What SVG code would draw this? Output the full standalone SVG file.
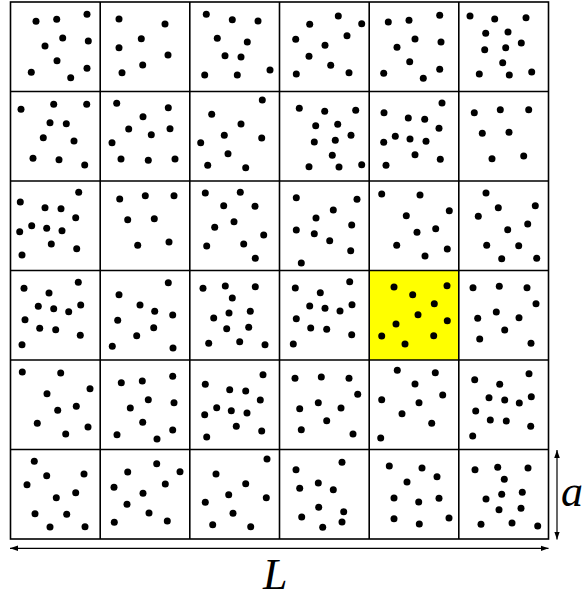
<svg xmlns="http://www.w3.org/2000/svg" width="588" height="599" viewBox="0 0 588 599">
<style>
.g{fill:none;stroke:#000;stroke-width:1.6}
circle{fill:#000}
.ar{stroke:#000;stroke-width:1.2;fill:none}
.lb{font-family:"Liberation Serif","DejaVu Serif",serif;font-style:italic;fill:#000}
</style>
<defs>
<marker id="ah" viewBox="0 0 10 10" refX="10" refY="5" markerWidth="8" markerHeight="8" orient="auto-start-reverse" markerUnits="userSpaceOnUse">
<path d="M0,1.5 L10,5 L0,8.5 Z" fill="#000"/>
</marker>
</defs>
<rect x="369.5" y="270.5" width="89" height="89.5" fill="#ffff00"/>
<g id="grid">
<rect class="g" x="10.5" y="2" width="538" height="537"/>
<path class="g" d="M100.2,2V539M189.8,2V539M279.5,2V539M369.2,2V539M458.8,2V539M10.5,91.5H548.5M10.5,181H548.5M10.5,270.5H548.5M10.5,360H548.5M10.5,449.5H548.5"/>
</g>
<g id="dots">
<g id="c00"><circle cx="36" cy="21.3" r="3.5"/><circle cx="56.7" cy="19.3" r="3.5"/><circle cx="87" cy="14.3" r="3.5"/><circle cx="62.7" cy="38" r="3.5"/><circle cx="45" cy="46" r="3.5"/><circle cx="88.3" cy="41" r="3.5"/><circle cx="57" cy="60.7" r="3.5"/><circle cx="31.3" cy="72.3" r="3.5"/><circle cx="70.7" cy="77.7" r="3.5"/><circle cx="87" cy="68.3" r="3.5"/></g>
<g id="c10"><circle cx="119" cy="19" r="3.5"/><circle cx="165" cy="24" r="3.5"/><circle cx="141.3" cy="38.7" r="3.5"/><circle cx="119" cy="47.7" r="3.5"/><circle cx="168" cy="55" r="3.5"/><circle cx="142.7" cy="65" r="3.5"/><circle cx="122" cy="72.7" r="3.5"/></g>
<g id="c20"><circle cx="206.3" cy="14.3" r="3.5"/><circle cx="232.3" cy="19.7" r="3.5"/><circle cx="258" cy="21" r="3.5"/><circle cx="217.3" cy="38.3" r="3.5"/><circle cx="247.3" cy="42" r="3.5"/><circle cx="225" cy="55.7" r="3.5"/><circle cx="241" cy="57" r="3.5"/><circle cx="204.7" cy="75" r="3.5"/><circle cx="237.3" cy="75" r="3.5"/><circle cx="270" cy="70" r="3.5"/></g>
<g id="c30"><circle cx="338.3" cy="16" r="3.5"/><circle cx="309.7" cy="24.3" r="3.5"/><circle cx="361.7" cy="23.7" r="3.5"/><circle cx="295.7" cy="39.3" r="3.5"/><circle cx="347" cy="35.7" r="3.5"/><circle cx="325" cy="45.3" r="3.5"/><circle cx="309" cy="56.3" r="3.5"/><circle cx="330.7" cy="65.3" r="3.5"/><circle cx="296.3" cy="74" r="3.5"/><circle cx="349" cy="72.7" r="3.5"/></g>
<g id="c40"><circle cx="388.3" cy="22" r="3.5"/><circle cx="409" cy="20.3" r="3.5"/><circle cx="439.7" cy="15.3" r="3.5"/><circle cx="415" cy="39" r="3.5"/><circle cx="441" cy="42" r="3.5"/><circle cx="397" cy="47.3" r="3.5"/><circle cx="409.7" cy="61.7" r="3.5"/><circle cx="383.7" cy="73.3" r="3.5"/><circle cx="423.3" cy="78.3" r="3.5"/><circle cx="439.7" cy="69.3" r="3.5"/></g>
<g id="c50"><circle cx="470" cy="16" r="3.5"/><circle cx="494.7" cy="19" r="3.5"/><circle cx="526" cy="17.7" r="3.5"/><circle cx="485.7" cy="33.3" r="3.5"/><circle cx="508" cy="32" r="3.5"/><circle cx="521.3" cy="43" r="3.5"/><circle cx="484.7" cy="49.7" r="3.5"/><circle cx="505.7" cy="47.7" r="3.5"/><circle cx="502.7" cy="62.7" r="3.5"/><circle cx="479.3" cy="74" r="3.5"/><circle cx="509.3" cy="75" r="3.5"/><circle cx="531.7" cy="72" r="3.5"/></g>
<g id="c01"><circle cx="21" cy="109.3" r="3.5"/><circle cx="53.7" cy="104.3" r="3.5"/><circle cx="86.7" cy="104.3" r="3.5"/><circle cx="50" cy="122.7" r="3.5"/><circle cx="66.3" cy="123.7" r="3.5"/><circle cx="43.3" cy="137.7" r="3.5"/><circle cx="74" cy="141" r="3.5"/><circle cx="33" cy="158.3" r="3.5"/><circle cx="59" cy="159.7" r="3.5"/><circle cx="84.7" cy="165" r="3.5"/></g>
<g id="c11"><circle cx="116.7" cy="103.3" r="3.5"/><circle cx="168.3" cy="107.7" r="3.5"/><circle cx="143" cy="116.7" r="3.5"/><circle cx="128.7" cy="129" r="3.5"/><circle cx="151.3" cy="134.7" r="3.5"/><circle cx="170" cy="128.7" r="3.5"/><circle cx="112" cy="142.7" r="3.5"/><circle cx="121" cy="159" r="3.5"/><circle cx="148.3" cy="160.3" r="3.5"/><circle cx="175" cy="159" r="3.5"/></g>
<g id="c21"><circle cx="262.3" cy="100" r="3.5"/><circle cx="211.7" cy="114.3" r="3.5"/><circle cx="241" cy="124" r="3.5"/><circle cx="224.3" cy="135.3" r="3.5"/><circle cx="200.7" cy="142.7" r="3.5"/><circle cx="261.7" cy="138" r="3.5"/><circle cx="228" cy="153.7" r="3.5"/><circle cx="207.7" cy="165.3" r="3.5"/><circle cx="245.7" cy="167.7" r="3.5"/></g>
<g id="c31"><circle cx="299.3" cy="108.3" r="3.5"/><circle cx="324.7" cy="111.3" r="3.5"/><circle cx="355.7" cy="110.3" r="3.5"/><circle cx="315.7" cy="125.7" r="3.5"/><circle cx="337.7" cy="124.3" r="3.5"/><circle cx="314.3" cy="142" r="3.5"/><circle cx="335.3" cy="140.3" r="3.5"/><circle cx="351" cy="135.3" r="3.5"/><circle cx="332.3" cy="155.3" r="3.5"/><circle cx="309" cy="166.7" r="3.5"/><circle cx="339" cy="167" r="3.5"/><circle cx="361.7" cy="164.7" r="3.5"/></g>
<g id="c41"><circle cx="442" cy="103" r="3.5"/><circle cx="384" cy="112.7" r="3.5"/><circle cx="408.3" cy="118" r="3.5"/><circle cx="424.7" cy="119.3" r="3.5"/><circle cx="439" cy="128.3" r="3.5"/><circle cx="395.3" cy="136.3" r="3.5"/><circle cx="410" cy="139" r="3.5"/><circle cx="426" cy="141.3" r="3.5"/><circle cx="383.7" cy="142.3" r="3.5"/><circle cx="415" cy="154.7" r="3.5"/><circle cx="440.3" cy="159.3" r="3.5"/><circle cx="386" cy="165.3" r="3.5"/></g>
<g id="c51"><circle cx="474.3" cy="112.7" r="3.5"/><circle cx="500.3" cy="109.7" r="3.5"/><circle cx="528.7" cy="109.7" r="3.5"/><circle cx="482.3" cy="133.3" r="3.5"/><circle cx="509" cy="132.3" r="3.5"/><circle cx="492" cy="158.7" r="3.5"/><circle cx="523.7" cy="156" r="3.5"/></g>
<g id="c02"><circle cx="78.7" cy="192.3" r="3.5"/><circle cx="20.3" cy="202" r="3.5"/><circle cx="45" cy="207.7" r="3.5"/><circle cx="61" cy="208.7" r="3.5"/><circle cx="75.7" cy="217.7" r="3.5"/><circle cx="31.7" cy="225.7" r="3.5"/><circle cx="19.7" cy="231.7" r="3.5"/><circle cx="46.7" cy="228.3" r="3.5"/><circle cx="62" cy="230.7" r="3.5"/><circle cx="51.3" cy="244" r="3.5"/><circle cx="76.7" cy="248.7" r="3.5"/><circle cx="22" cy="255" r="3.5"/></g>
<g id="c12"><circle cx="119.7" cy="199" r="3.5"/><circle cx="145.3" cy="195.7" r="3.5"/><circle cx="174" cy="195.7" r="3.5"/><circle cx="127.7" cy="219.7" r="3.5"/><circle cx="154.3" cy="218.7" r="3.5"/><circle cx="137.7" cy="245.3" r="3.5"/><circle cx="169" cy="242" r="3.5"/></g>
<g id="c22"><circle cx="205.3" cy="193" r="3.5"/><circle cx="240.3" cy="192.3" r="3.5"/><circle cx="223.7" cy="205.7" r="3.5"/><circle cx="255" cy="206.3" r="3.5"/><circle cx="234" cy="221.7" r="3.5"/><circle cx="214.7" cy="227.3" r="3.5"/><circle cx="263.7" cy="235" r="3.5"/><circle cx="206.7" cy="246" r="3.5"/><circle cx="243.7" cy="244" r="3.5"/><circle cx="255.3" cy="258.3" r="3.5"/></g>
<g id="c32"><circle cx="296.3" cy="197.7" r="3.5"/><circle cx="357" cy="199.3" r="3.5"/><circle cx="333.3" cy="210" r="3.5"/><circle cx="316" cy="218" r="3.5"/><circle cx="296.3" cy="230" r="3.5"/><circle cx="314.3" cy="233.7" r="3.5"/><circle cx="351.7" cy="225" r="3.5"/><circle cx="329.7" cy="240.7" r="3.5"/><circle cx="350.7" cy="250.7" r="3.5"/><circle cx="301.3" cy="263" r="3.5"/></g>
<g id="c42"><circle cx="381.7" cy="194" r="3.5"/><circle cx="420" cy="195" r="3.5"/><circle cx="449.3" cy="210.7" r="3.5"/><circle cx="406.3" cy="215.7" r="3.5"/><circle cx="435.7" cy="228.7" r="3.5"/><circle cx="417" cy="232.3" r="3.5"/><circle cx="396.7" cy="245.3" r="3.5"/><circle cx="447.3" cy="249" r="3.5"/><circle cx="425" cy="256" r="3.5"/></g>
<g id="c52"><circle cx="486" cy="193" r="3.5"/><circle cx="498.3" cy="207.7" r="3.5"/><circle cx="535.3" cy="205.7" r="3.5"/><circle cx="478.3" cy="216.3" r="3.5"/><circle cx="507.7" cy="229.7" r="3.5"/><circle cx="527.7" cy="224" r="3.5"/><circle cx="486.7" cy="245.3" r="3.5"/><circle cx="518.7" cy="245.7" r="3.5"/><circle cx="501.7" cy="258.7" r="3.5"/><circle cx="536.7" cy="258.3" r="3.5"/></g>
<g id="c03"><circle cx="78.3" cy="282.3" r="3.5"/><circle cx="24" cy="288.3" r="3.5"/><circle cx="49" cy="293" r="3.5"/><circle cx="38.3" cy="306.3" r="3.5"/><circle cx="53.7" cy="308.7" r="3.5"/><circle cx="68.7" cy="311.7" r="3.5"/><circle cx="80.7" cy="305" r="3.5"/><circle cx="25" cy="319.7" r="3.5"/><circle cx="39.7" cy="328.3" r="3.5"/><circle cx="55.7" cy="329.7" r="3.5"/><circle cx="80.3" cy="335.3" r="3.5"/><circle cx="22" cy="344.7" r="3.5"/></g>
<g id="c13"><circle cx="168.3" cy="282.7" r="3.5"/><circle cx="119" cy="294.7" r="3.5"/><circle cx="140" cy="305" r="3.5"/><circle cx="154.7" cy="311.3" r="3.5"/><circle cx="172.7" cy="315" r="3.5"/><circle cx="117.7" cy="320.3" r="3.5"/><circle cx="153.7" cy="327.7" r="3.5"/><circle cx="136.7" cy="335.7" r="3.5"/><circle cx="112.3" cy="346.3" r="3.5"/><circle cx="173" cy="348" r="3.5"/></g>
<g id="c23"><circle cx="203" cy="288.3" r="3.5"/><circle cx="225.3" cy="286" r="3.5"/><circle cx="255.3" cy="286.7" r="3.5"/><circle cx="232.3" cy="298" r="3.5"/><circle cx="213.7" cy="318" r="3.5"/><circle cx="229" cy="313" r="3.5"/><circle cx="250.3" cy="311.3" r="3.5"/><circle cx="226.7" cy="328.7" r="3.5"/><circle cx="248.7" cy="327.3" r="3.5"/><circle cx="208.7" cy="343.3" r="3.5"/><circle cx="239.7" cy="341.7" r="3.5"/><circle cx="265" cy="344.7" r="3.5"/></g>
<g id="c33"><circle cx="349.7" cy="281.7" r="3.5"/><circle cx="295.3" cy="288" r="3.5"/><circle cx="320.3" cy="292.7" r="3.5"/><circle cx="309.7" cy="306" r="3.5"/><circle cx="325" cy="308.3" r="3.5"/><circle cx="340" cy="311" r="3.5"/><circle cx="352" cy="304.7" r="3.5"/><circle cx="296.3" cy="318.7" r="3.5"/><circle cx="310.7" cy="328" r="3.5"/><circle cx="326.7" cy="329.3" r="3.5"/><circle cx="351.7" cy="334.7" r="3.5"/><circle cx="293.3" cy="344" r="3.5"/></g>
<g id="c43"><circle cx="394" cy="287" r="3.5"/><circle cx="447" cy="285.7" r="3.5"/><circle cx="412.7" cy="294.7" r="3.5"/><circle cx="434.3" cy="303.7" r="3.5"/><circle cx="418" cy="314.7" r="3.5"/><circle cx="447.3" cy="320.7" r="3.5"/><circle cx="396" cy="324" r="3.5"/><circle cx="381.7" cy="336" r="3.5"/><circle cx="433.7" cy="335.7" r="3.5"/><circle cx="405" cy="344" r="3.5"/></g>
<g id="c53"><circle cx="473" cy="287.7" r="3.5"/><circle cx="499.3" cy="286.3" r="3.5"/><circle cx="527" cy="287.7" r="3.5"/><circle cx="536" cy="303.7" r="3.5"/><circle cx="477.7" cy="318.3" r="3.5"/><circle cx="496.3" cy="312" r="3.5"/><circle cx="519" cy="317.7" r="3.5"/><circle cx="504.7" cy="330" r="3.5"/><circle cx="479.7" cy="339" r="3.5"/><circle cx="531" cy="343.3" r="3.5"/></g>
<g id="c04"><circle cx="22.3" cy="372" r="3.5"/><circle cx="60.7" cy="373" r="3.5"/><circle cx="90" cy="388.7" r="3.5"/><circle cx="47" cy="393.7" r="3.5"/><circle cx="57.7" cy="410.3" r="3.5"/><circle cx="76.3" cy="406.3" r="3.5"/><circle cx="37.3" cy="423.3" r="3.5"/><circle cx="65.7" cy="434" r="3.5"/><circle cx="88" cy="427" r="3.5"/></g>
<g id="c14"><circle cx="121.3" cy="382.7" r="3.5"/><circle cx="142.3" cy="381" r="3.5"/><circle cx="172.7" cy="376.3" r="3.5"/><circle cx="148.3" cy="399.7" r="3.5"/><circle cx="174" cy="402.7" r="3.5"/><circle cx="130.3" cy="408" r="3.5"/><circle cx="142.7" cy="422.3" r="3.5"/><circle cx="117" cy="434.7" r="3.5"/><circle cx="157" cy="439" r="3.5"/><circle cx="172.7" cy="430" r="3.5"/></g>
<g id="c24"><circle cx="263" cy="374.7" r="3.5"/><circle cx="205.3" cy="384.3" r="3.5"/><circle cx="229.7" cy="389.7" r="3.5"/><circle cx="245.7" cy="391" r="3.5"/><circle cx="260.3" cy="400" r="3.5"/><circle cx="216.7" cy="407.7" r="3.5"/><circle cx="231.3" cy="410.7" r="3.5"/><circle cx="247" cy="413" r="3.5"/><circle cx="204.7" cy="414.7" r="3.5"/><circle cx="236.3" cy="426.3" r="3.5"/><circle cx="261.7" cy="431" r="3.5"/><circle cx="206.7" cy="437" r="3.5"/></g>
<g id="c34"><circle cx="295" cy="378.3" r="3.5"/><circle cx="321.3" cy="377" r="3.5"/><circle cx="349" cy="378.3" r="3.5"/><circle cx="357.7" cy="394.3" r="3.5"/><circle cx="299.7" cy="408.7" r="3.5"/><circle cx="318.3" cy="402.7" r="3.5"/><circle cx="341" cy="408" r="3.5"/><circle cx="326.7" cy="420.7" r="3.5"/><circle cx="301.3" cy="429.7" r="3.5"/><circle cx="353" cy="434" r="3.5"/></g>
<g id="c44"><circle cx="397.3" cy="370.3" r="3.5"/><circle cx="435.3" cy="372.7" r="3.5"/><circle cx="415" cy="384" r="3.5"/><circle cx="442.7" cy="395" r="3.5"/><circle cx="381.7" cy="399.7" r="3.5"/><circle cx="419" cy="402.7" r="3.5"/><circle cx="402" cy="413.7" r="3.5"/><circle cx="431.7" cy="423.3" r="3.5"/><circle cx="380.7" cy="438" r="3.5"/></g>
<g id="c54"><circle cx="474.7" cy="379.7" r="3.5"/><circle cx="529" cy="373.7" r="3.5"/><circle cx="499.7" cy="384.3" r="3.5"/><circle cx="489" cy="397.7" r="3.5"/><circle cx="504.7" cy="400" r="3.5"/><circle cx="519.3" cy="403" r="3.5"/><circle cx="531.3" cy="396.7" r="3.5"/><circle cx="475.7" cy="411" r="3.5"/><circle cx="490.3" cy="420" r="3.5"/><circle cx="506.3" cy="421" r="3.5"/><circle cx="530.7" cy="426.3" r="3.5"/><circle cx="472.7" cy="436" r="3.5"/></g>
<g id="c05"><circle cx="34.3" cy="461.3" r="3.5"/><circle cx="46.7" cy="475.7" r="3.5"/><circle cx="84" cy="474" r="3.5"/><circle cx="27" cy="484.7" r="3.5"/><circle cx="75.7" cy="492.7" r="3.5"/><circle cx="56.3" cy="497.7" r="3.5"/><circle cx="35" cy="513.7" r="3.5"/><circle cx="66.7" cy="514.3" r="3.5"/><circle cx="50" cy="527" r="3.5"/><circle cx="85" cy="526.7" r="3.5"/></g>
<g id="c15"><circle cx="156.7" cy="463.7" r="3.5"/><circle cx="127.7" cy="472" r="3.5"/><circle cx="180" cy="471.7" r="3.5"/><circle cx="114" cy="487.3" r="3.5"/><circle cx="165.3" cy="484" r="3.5"/><circle cx="143" cy="493.3" r="3.5"/><circle cx="127" cy="504.3" r="3.5"/><circle cx="149" cy="513" r="3.5"/><circle cx="114.3" cy="522.3" r="3.5"/><circle cx="167.3" cy="521" r="3.5"/></g>
<g id="c25"><circle cx="267" cy="459" r="3.5"/><circle cx="216" cy="474" r="3.5"/><circle cx="245.7" cy="483.7" r="3.5"/><circle cx="228.7" cy="494.7" r="3.5"/><circle cx="266.3" cy="497.7" r="3.5"/><circle cx="205.3" cy="502.3" r="3.5"/><circle cx="233" cy="513.3" r="3.5"/><circle cx="212.7" cy="524.7" r="3.5"/><circle cx="250.7" cy="526.7" r="3.5"/></g>
<g id="c35"><circle cx="342" cy="462.3" r="3.5"/><circle cx="296" cy="469.7" r="3.5"/><circle cx="318.3" cy="483" r="3.5"/><circle cx="299.7" cy="488.3" r="3.5"/><circle cx="333.3" cy="489.7" r="3.5"/><circle cx="318.7" cy="507.3" r="3.5"/><circle cx="343.7" cy="511.7" r="3.5"/><circle cx="301.7" cy="517" r="3.5"/><circle cx="342" cy="522" r="3.5"/><circle cx="322.7" cy="527.3" r="3.5"/></g>
<g id="c45"><circle cx="389.3" cy="466" r="3.5"/><circle cx="422" cy="468" r="3.5"/><circle cx="437" cy="476.7" r="3.5"/><circle cx="407" cy="482" r="3.5"/><circle cx="394" cy="498" r="3.5"/><circle cx="418.7" cy="502" r="3.5"/><circle cx="439" cy="498.3" r="3.5"/><circle cx="394" cy="518.7" r="3.5"/><circle cx="419.3" cy="524" r="3.5"/><circle cx="449" cy="518" r="3.5"/></g>
<g id="c55"><circle cx="475" cy="469.7" r="3.5"/><circle cx="497.7" cy="467.3" r="3.5"/><circle cx="528" cy="468" r="3.5"/><circle cx="504.3" cy="479.3" r="3.5"/><circle cx="486" cy="499" r="3.5"/><circle cx="501.7" cy="494.3" r="3.5"/><circle cx="522.3" cy="492.3" r="3.5"/><circle cx="499" cy="509.7" r="3.5"/><circle cx="521" cy="508.3" r="3.5"/><circle cx="481" cy="524.3" r="3.5"/><circle cx="512" cy="523" r="3.5"/><circle cx="537.7" cy="526" r="3.5"/></g>
</g>
<g id="connectors">
<line class="ar" x1="557" y1="450" x2="557" y2="539.5" marker-start="url(#ah)" marker-end="url(#ah)"/>
<line class="ar" x1="10" y1="548.3" x2="548.5" y2="548.3" marker-start="url(#ah)" marker-end="url(#ah)"/>
</g>
<text class="lb" x="561" y="506" font-size="44">a</text>
<text class="lb" x="263" y="589" font-size="44">L</text>
</svg>
